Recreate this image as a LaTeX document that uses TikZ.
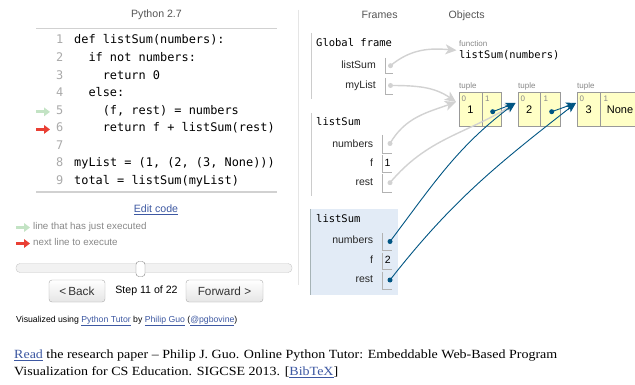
\documentclass[tikz,border=0pt]{standalone}
\usepackage{fontspec}
\setmainfont{Liberation Serif}
\setsansfont{Liberation Sans}
\setmonofont{DejaVu Sans Mono}
\newfontfamily\paperfont[FakeStretch=1.12]{Liberation Serif}
\usetikzlibrary{arrows.meta}

\definecolor{linkblue}{HTML}{3D58A2}
\definecolor{ptr}{HTML}{005583}
\definecolor{oldptr}{HTML}{D2D2D2}
\definecolor{heapfill}{HTML}{FFFFC6}
\definecolor{cellborder}{HTML}{999999}
\definecolor{framehl}{HTML}{E2EBF6}
\definecolor{framehlborder}{HTML}{A6B3B6}
\definecolor{framerule}{HTML}{CCCCCC}
\definecolor{okgreen}{HTML}{C3E3C4}
\definecolor{nextred}{HTML}{E93F34}
\definecolor{softtext}{HTML}{555555}
\definecolor{legendgray}{HTML}{888888}
\definecolor{lnumgray}{HTML}{AAAAAA}
\definecolor{smallgray}{HTML}{888888}
\definecolor{btnborder}{HTML}{AAAAAA}

\newcommand{\pxfont}[1]{\fontsize{#1}{#1}\selectfont}
\newcommand{\weblink}[1]{\textcolor{linkblue}{\underline{#1}}}

\tikzset{
  sans/.style={font=\sffamily\pxfont{10.6}, inner sep=0, anchor=mid},
  code/.style={font=\ttfamily\pxfont{11.9}, inner sep=0, anchor=mid west},
  lineno/.style={code, anchor=mid east, text=lnumgray},
  legend/.style={font=\sffamily\pxfont{9.8}, text=legendgray, inner sep=0, anchor=mid west},
  btn/.style={font=\sffamily\pxfont{11.8}, draw=btnborder, rounded corners=3pt,
    top color=white, bottom color=black!10, minimum height=22, inner sep=0, text=black!80},
  framehead/.style={font=\ttfamily\pxfont{10.5}, anchor=mid west, inner sep=0},
  varname/.style={font=\sffamily\pxfont{10.5}, anchor=mid east, inner sep=0, text=black!85},
  valbox/.style={draw=black!30, line width=0.8},
  cell/.style={draw=cellborder, fill=heapfill, anchor=north west, minimum height=34,
    inner sep=0, line width=0.8},
  tiny/.style={font=\sffamily\pxfont{8}, text=smallgray, anchor=mid west, inner sep=0},
  val/.style={font=\sffamily\pxfont{11}, inner sep=0, anchor=mid},
  ref/.style={circle, fill=ptr, inner sep=0, minimum size=5},
  oldref/.style={circle, fill=oldptr, inner sep=0, minimum size=5},
  newarrow/.style={draw=ptr, line width=0.9, -{Stealth[length=10pt,width=8pt,inset=2.5pt]}},
  oldarrow/.style={draw=oldptr, line width=1.4, -{Stealth[length=11pt,width=10pt,inset=3pt]}},
  linemark/.style={line width=2.8, -{Triangle[length=6pt,width=8.5pt]}},
  citation/.style={font=\paperfont\pxfont{12.5}, anchor=mid west, inner sep=0},
}

\begin{document}
\begin{tikzpicture}[x=1pt,y=-1pt]
\useasboundingbox (0,0) rectangle (635,385);
\fill[white] (0,0) rectangle (635,385);

% ---------- code panel ----------
\node[sans, text=softtext] (lang) at (156.5,15) {Python 2.7};
\draw[black!18, line width=1] (36,29) -- (277,29);
\draw[black!18, line width=2] (36,192) -- (277,192);

\node[lineno] (n1) at (63.5,41.7)  {1};
\node[lineno] (n2) at (63.5,59.25) {2};
\node[lineno] (n3) at (63.5,76.8)  {3};
\node[lineno] (n4) at (63.5,94.35) {4};
\node[lineno] (n5) at (63.5,111.9) {5};
\node[lineno] (n6) at (63.5,129.45){6};
\node[lineno] (n7) at (63.5,147)   {7};
\node[lineno] (n8) at (63.5,164.55){8};
\node[lineno] (n9) at (63.5,182.1) {9};

\node[code] (c1) at (74,41.7)    {def listSum(numbers):};
\node[code] (c2) at (88.3,59.25) {if not numbers:};
\node[code] (c3) at (102.6,76.8) {return 0};
\node[code] (c4) at (88.3,94.35) {else:};
\node[code] (c5) at (102.6,111.9){(f, rest) = numbers};
\node[code] (c6) at (102.6,129.45){return f + listSum(rest)};
\node[code] (c8) at (74,164.55)  {myList = (1, (2, (3, None)))};
\node[code] (c9) at (74,182.1)   {total = listSum(myList)};

\draw[linemark, okgreen] (36,111.9) -- (50,111.9);
\draw[linemark, nextred] (36,129.45) -- (50,129.45);

% divider between the two panels
\draw[black!10, line width=1] (298.5,10) -- (298.5,285);

\node[sans, text=linkblue] (edit) at (156,210) {\underline{Edit code}};

\draw[linemark, okgreen] (16,227.5) -- (30,227.5);
\node[legend] (lg1) at (33,227.5) {line that has just executed};
\draw[linemark, nextred] (16,243.5) -- (30,243.5);
\node[legend] (lg2) at (33,243.5) {next line to execute};

% slider
\draw[fill=black!5, draw=black!22, rounded corners=4pt] (16,263.5) rectangle (292,272.5);
\draw[fill=white, draw=black!50, rounded corners=3pt] (136,261.5) rectangle (145,276.5);

% navigation
\node[btn, minimum width=56] (back) at (77,291) {<\,Back};
\node[sans] (step) at (146.5,291) {Step 11 of 22};
\node[btn, minimum width=77] (fwd) at (224.5,291) {Forward >};

\node[font=\sffamily\pxfont{8.7}, anchor=mid west, inner sep=0] (credit) at (16,320)
  {Visualized using \weblink{Python Tutor} by \weblink{Philip Guo} (\weblink{@pgbovine})};

% ---------- frames ----------
\node[sans, text=softtext] (frames) at (379.7,16) {Frames};
\node[sans, text=softtext] (objects) at (466.7,16) {Objects};

% global frame
\draw[framerule, line width=1] (311,33) -- (311,99);
\node[framehead] (gf) at (316,44.5) {Global frame};
\node[varname] (gv1) at (376,66.5) {listSum};
\draw[valbox] (385,58) -- (385,73.5) -- (393,73.5);
\node[oldref] (g-listSum) at (390.5,65.7) {};
\node[varname] (gv2) at (376,86) {myList};
\draw[valbox] (385,78) -- (385,94) -- (393,94);
\node[oldref] (g-myList) at (390.5,85.5) {};

% first listSum frame
\draw[framerule, line width=1] (311,113) -- (311,196);
\node[framehead] (f1) at (316,123) {listSum};
\node[varname] (f1v1) at (373.3,145) {numbers};
\draw[valbox] (382,135) -- (382,153) -- (392,153);
\node[oldref] (f1-numbers) at (390,143.5) {};
\node[varname] (f1v2) at (373.3,164) {f};
\draw[valbox] (382,155) -- (382,172.5) -- (392,172.5);
\node[val, font=\sffamily\pxfont{10.5}] (f1-f) at (387.5,164) {1};
\node[varname] (f1v3) at (373.3,183) {rest};
\draw[valbox] (382,174.5) -- (382,192) -- (392,192);
\node[oldref] (f1-rest) at (390,182.7) {};

% current listSum frame
\fill[framehl] (310,209) rectangle (397.5,294.5);
\draw[framehlborder, line width=1] (310.5,209) -- (310.5,294.5);
\node[framehead] (f2) at (316,220.7) {listSum};
\node[varname] (f2v1) at (373.3,241.7) {numbers};
\draw[valbox] (382,233) -- (382,250.5) -- (392,250.5);
\node[ref] (f2-numbers) at (390,241.5) {};
\node[varname] (f2v2) at (373.3,261) {f};
\draw[valbox] (382,252.5) -- (382,269.5) -- (392,269.5);
\node[val, font=\sffamily\pxfont{10.5}] (f2-f) at (387.7,261) {2};
\node[varname] (f2v3) at (373.3,280) {rest};
\draw[valbox] (382,271.5) -- (382,289) -- (392,289);
\node[ref] (f2-rest) at (390,280) {};

% ---------- objects ----------
\node[tiny] (fnkind) at (459,44) {function};
\node[framehead, font=\ttfamily\pxfont{10.4}] (fn) at (459,56.3) {listSum(numbers)};

\node[tiny] (tk1) at (459,86) {tuple};
\node[cell, minimum width=22.4] (t1a) at (459.3,92) {};
\node[cell, minimum width=19.3] (t1b) at (481.7,92) {};
\node[tiny] at (461.5,99) {0};
\node[tiny] at (485,99) {1};
\node[val] (t1v) at (470.5,111.7) {1};

\node[tiny] (tk2) at (518,86) {tuple};
\node[cell, minimum width=21.7] (t2a) at (518.3,92) {};
\node[cell, minimum width=20] (t2b) at (540,92) {};
\node[tiny] at (520.5,99) {0};
\node[tiny] at (543.3,99) {1};
\node[val] (t2v) at (529.2,111.7) {2};

\node[tiny] (tk3) at (577,86) {tuple};
\node[cell, minimum width=22.7] (t3a) at (577.3,92) {};
\node[cell, minimum width=40] (t3b) at (600,92) {};
\node[tiny] at (579.5,99) {0};
\node[tiny] at (603.3,99) {1};
\node[val] (t3v) at (588.7,111.7) {3};
\node[val] (t3none) at (620,111.7) {None};

\node[ref] (t1-rest) at (492.7,111.7) {};
\node[ref] (t2-rest) at (551.7,111.7) {};

% arrow heads land just left of each object
\coordinate (to-fn) at (456.5,50.3);
\coordinate (to-t1) at (456,102);
\coordinate (to-t2) at (515.5,103);
\coordinate (to-t3) at (576,103);

% stale references from the older frames
\draw[oldarrow] (g-listSum.center) to[out=40,in=175] (to-fn);
\draw[oldarrow] (g-myList.center) to[out=0,in=145] (to-t1);
\draw[oldarrow] (f1-numbers.center) to[out=60,in=200] (to-t1);
\draw[oldarrow] (f1-rest.center) to[out=50,in=212] (to-t2);

% live references
\draw[newarrow] (t1-rest.center) -- (to-t2);
\draw[newarrow] (t2-rest.center) -- (to-t3);
\draw[newarrow] (f2-numbers.center) to[out=53,in=217] (to-t2);
\draw[newarrow] (f2-rest.center) to[out=52,in=218] (to-t3);

% ---------- citation ----------
\node[citation] (cite1) at (14,356.7)
  {\weblink{Read} the research paper \textendash{} Philip J. Guo. Online Python Tutor: Embeddable Web-Based Program};
\node[citation] (cite2) at (14,373.3)
  {Visualization for CS Education. SIGCSE 2013. [\weblink{BibTeX}]};
\end{tikzpicture}
\end{document}
